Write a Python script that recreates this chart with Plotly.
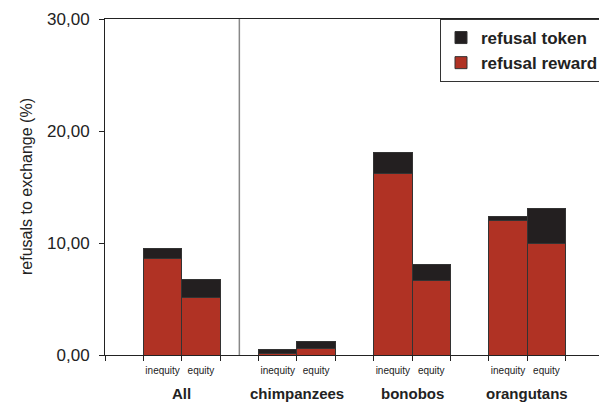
import plotly.graph_objects as go

groups = ["All", "chimpanzees", "bonobos", "orangutans"]
conditions = ["inequity", "equity"]
# values per group, [inequity, equity]
refusal_reward = [[8.65, 5.12], [0.12, 0.55], [16.2, 6.62], [12.0, 9.98]]
refusal_token = [[0.89, 1.62], [0.35, 0.64], [1.9, 1.42], [0.4, 3.1]]
y_ticks = [0, 10, 20, 30]

RED = "#B03224"
BLACK = "#231F20"
FONT = "Liberation Sans, Arial, sans-serif"

# positions: each group occupies 3 slots (empty, inequity, equity) + trailing empty slot
xs, labels, rew, tok = [], [], [], []
for g, grp in enumerate(groups):
    for c, cond in enumerate(conditions):
        xs.append(1 + 3 * g + c)
        labels.append(cond)
        rew.append(refusal_reward[g][c])
        tok.append(refusal_token[g][c])
n_slots = 3 * len(groups) + 1
boundaries = [i - 0.5 for i in range(n_slots + 1)]

fig = go.Figure()
fig.add_trace(go.Bar(x=xs, y=rew, name="refusal reward", width=1,
                     marker=dict(color=RED, line=dict(color="#333333", width=1))))
fig.add_trace(go.Bar(x=xs, y=tok, name="refusal token", width=1,
                     marker=dict(color=BLACK, line=dict(color="#333333", width=1))))

# the page places the figure 8px from the top-left corner (body margin),
# so the figure is made 8px smaller and its left/top margins 8px narrower
fig.update_layout(
    barmode="stack",
    width=599, height=394,
    margin=dict(l=97, r=2, t=8, b=47),
    plot_bgcolor="white", paper_bgcolor="white",
    font=dict(family=FONT, color="#222222"),
    separators=",.",
    showlegend=True,
    legend=dict(x=1, xanchor="right", y=1, yanchor="top",
                traceorder="reversed", bgcolor="white",
                bordercolor="#333333", borderwidth=1,
                font=dict(size=17, family=FONT, color="#222222", weight="bold"),
                itemwidth=30, tracegroupgap=0),
)

fig.update_xaxes(
    range=[-0.5, n_slots - 0.5],
    tickmode="array", tickvals=xs, ticktext=labels,
    ticks="", tickfont=dict(size=10, family=FONT, color="#222222"),
    ticklabelstandoff=6,
    showline=True, linecolor="#222222", linewidth=1, mirror=True,
    showgrid=False, zeroline=False,
    minor=dict(tickmode="array", tickvals=boundaries, ticks="outside",
               ticklen=5, tickcolor="#222222", showgrid=False),
)
fig.update_yaxes(
    range=[0, 30],
    tickmode="array", tickvals=y_ticks, tickformat=".2f",
    ticks="outside", ticklen=5, tickcolor="#222222",
    tickfont=dict(size=17, family=FONT, color="#222222"),
    ticklabelstandoff=6,
    ticklabeloverflow="allow",
    showline=True, linecolor="#222222", linewidth=1, mirror=True,
    showgrid=False, zeroline=False,
)

# separator between "All" and the species
fig.add_shape(type="line", x0=3, x1=3, xref="x", y0=0, y1=1, yref="y domain",
              line=dict(color="#888888", width=1.5))

# group labels
for g, grp in enumerate(groups):
    fig.add_annotation(x=1.5 + 3 * g, y=0, xref="x", yref="paper",
                       yshift=-38, yanchor="middle", showarrow=False,
                       text=f"<b>{grp}</b>",
                       font=dict(size=15, family=FONT, color="#222222"))

# y title
fig.add_annotation(x=0, y=0.5, xref="paper", yref="paper", xshift=-79,
                   xanchor="center", yanchor="middle", textangle=-90,
                   showarrow=False, text="refusals to exchange (%)",
                   font=dict(size=16, family=FONT, color="#222222"))

fig.write_html("out.html")
